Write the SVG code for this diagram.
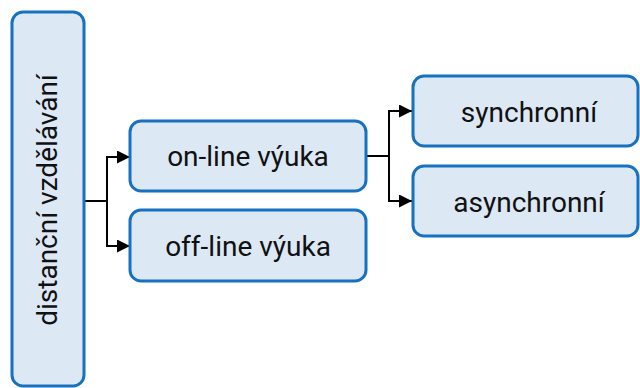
<svg xmlns="http://www.w3.org/2000/svg" width="640" height="388" viewBox="0 0 640 388">
<defs>
<style>
.box{fill:#dde8f5;stroke:#1771c0;stroke-width:3}
.lbl{font-family:Roboto,"Noto Sans",sans-serif;font-size:28px;fill:#111;text-anchor:middle}
.con{fill:none;stroke:#000;stroke-width:2}
</style>
<marker id="arr" markerWidth="13" markerHeight="13" refX="13" refY="6.5" orient="auto" markerUnits="userSpaceOnUse">
<path d="M0,0 L13,6.5 L0,13 Z" fill="#000"/>
</marker>
</defs>
<g id="connectors">
<path class="con" d="M84,201 H107"/>
<path class="con" d="M107,201 V157 H130" marker-end="url(#arr)"/>
<path class="con" d="M107,201 V246 H130" marker-end="url(#arr)"/>
<path class="con" d="M366,156 H389"/>
<path class="con" d="M389,156 V111 H412" marker-end="url(#arr)"/>
<path class="con" d="M389,156 V201 H412" marker-end="url(#arr)"/>
</g>
<g id="n-distancni">
<rect class="box" x="12" y="12" width="72" height="374" rx="11"/>
<text class="lbl" transform="translate(56.5,200) rotate(-90)">distanční vzdělávání</text>
</g>
<g id="n-online">
<rect class="box" x="130" y="121" width="236" height="70" rx="11"/>
<text class="lbl" x="248" y="166">on-line výuka</text>
</g>
<g id="n-offline">
<rect class="box" x="130" y="210" width="236" height="71" rx="11"/>
<text class="lbl" x="248" y="255.5">off-line výuka</text>
</g>
<g id="n-sync">
<rect class="box" x="413" y="76" width="225" height="70" rx="11"/>
<text class="lbl" x="529" y="121.5">synchronní</text>
</g>
<g id="n-async">
<rect class="box" x="413" y="166" width="225" height="70" rx="11"/>
<text class="lbl" x="529" y="211.5">asynchronní</text>
</g>
</svg>
